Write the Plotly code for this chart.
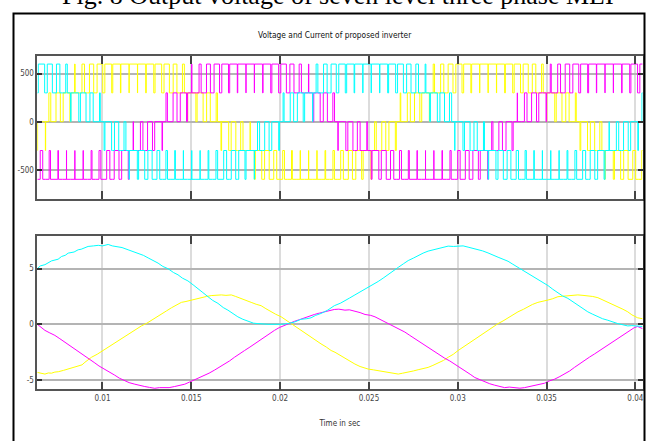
import math
import plotly.graph_objects as go

# ---------------- data (time in ms) ----------------
cyan_i_t = [6.33, 6.5, 6.76, 6.9, 7.13, 7.5, 7.70, 7.9, 8.07, 8.4, 8.63, 8.8, 9.19, 9.5, 9.76, 10.0, 10.32, 10.55,
            10.88, 11.1, 11.44, 11.7, 12.0, 12.3, 12.57, 12.9, 13.13, 13.4, 13.69, 14.0, 14.25, 14.5, 14.81, 15.1,
            15.37, 15.65, 15.94, 16.2, 16.5, 16.8, 17.06, 17.35, 17.62, 17.9, 18.18, 18.5, 18.75, 19.31, 20.06,
            20.43, 20.81, 21.18, 21.5, 21.74, 22.0, 22.3, 22.68, 23.05, 23.4, 23.65, 23.9, 24.21, 24.5, 24.96,
            25.3, 25.52, 25.8, 26.09, 26.4, 26.65, 26.95, 27.21, 27.5, 27.77, 28.05, 28.33, 28.6, 28.9, 29.2,
            29.46, 29.75, 30.02, 30.3, 30.58, 30.85, 31.14, 31.4, 31.7, 32.0, 32.27, 32.55, 32.83, 33.1, 33.39,
            33.7, 33.95, 34.2, 34.51, 34.8, 35.08, 35.35, 35.64, 35.9, 36.2, 36.5, 36.76, 37.05, 37.32, 37.6,
            37.89, 38.15, 38.45, 38.7, 39.01, 39.3, 39.57, 39.8, 40.13, 40.41]
cyan_i = [5.0, 5.25, 5.36, 5.5, 5.7, 5.85, 6.1, 6.2, 6.4, 6.5, 6.7, 6.75, 7.0, 7.05, 7.1, 7.05, 7.18, 7.05,
          7.0, 6.9, 6.7, 6.55, 6.4, 6.2, 5.97, 5.7, 5.5, 5.2, 5.0, 4.65, 4.45, 4.15, 3.9, 3.55,
          3.24, 2.85, 2.48, 2.15, 1.88, 1.5, 1.27, 0.95, 0.67, 0.45, 0.27, 0.1, 0.06, 0.0, 0.0,
          0.06, 0.2, 0.45, 0.5, 0.58, 0.8, 0.97, 1.27, 1.67, 1.9, 2.09, 2.35, 2.64, 2.9, 3.3,
          3.6, 3.85, 4.15, 4.5, 4.8, 5.12, 5.45, 5.73, 5.95, 6.2, 6.4, 6.58, 6.7, 6.82, 6.9,
          7.03, 7.0, 7.03, 7.05, 6.94, 6.85, 6.73, 6.6, 6.42, 6.25, 6.03, 5.85, 5.67, 5.4, 5.12,
          4.85, 4.6, 4.35, 4.09, 3.8, 3.48, 3.15, 2.79, 2.55, 2.33, 2.0, 1.73, 1.4, 1.12, 0.9,
          0.67, 0.5, 0.36, 0.2, 0.06, -0.05, -0.15, -0.12, -0.18, -0.2]

yellow_i_t = [6.33, 6.55, 6.76, 6.95, 7.13, 7.32, 7.51, 7.8, 8.07, 8.35, 8.63, 8.85, 9.01, 9.2, 9.38, 9.7, 9.94,
              10.2, 10.51, 10.8, 11.07, 11.35, 11.63, 11.9, 12.19, 12.5, 12.75, 13.0, 13.31, 13.6, 13.88, 14.15,
              14.44, 14.7, 15.0, 15.3, 15.56, 15.85, 16.12, 16.4, 16.69, 16.95, 17.25, 17.5, 17.81, 18.1, 18.37,
              18.65, 18.93, 19.2, 19.49, 19.75, 20.06, 20.35, 20.62, 20.9, 21.18, 21.45, 21.74, 22.0, 22.3, 22.6,
              22.87, 23.09, 23.38, 23.65, 23.9, 24.21, 24.5, 24.96, 25.25, 25.52, 25.8, 26.09, 26.4, 26.65, 26.9,
              27.21, 27.5, 27.77, 28.05, 28.33, 28.6, 28.9, 29.2, 29.46, 29.75, 30.02, 30.3, 30.58, 30.85, 31.14,
              31.4, 31.7, 31.95, 32.27, 32.55, 32.83, 33.1, 33.39, 33.7, 33.95, 34.2, 34.51, 34.8, 35.08, 35.35,
              35.64, 35.9, 36.2, 36.5, 36.76, 37.05, 37.32, 37.6, 37.89, 38.15, 38.45, 38.7, 39.01, 39.3, 39.57,
              39.8, 40.13, 40.41]
yellow_i = [-4.33, -4.4, -4.48, -4.38, -4.4, -4.3, -4.27, -4.15, -4.03, -3.9, -3.73, -3.65, -3.42, -3.2, -2.97, -2.7, -2.45,
            -2.2, -1.91, -1.6, -1.3, -1.0, -0.7, -0.4, -0.15, 0.1, 0.36, 0.62, 0.97, 1.2, 1.48, 1.75,
            1.97, 2.05, 2.18, 2.3, 2.39, 2.5, 2.58, 2.62, 2.64, 2.6, 2.64, 2.5, 2.33, 2.15, 1.97,
            1.8, 1.67, 1.4, 1.12, 0.9, 0.67, 0.35, 0.06, -0.25, -0.55, -0.85, -1.15, -1.45, -1.76, -2.05,
            -2.36, -2.52, -2.8, -3.06, -3.3, -3.58, -3.8, -4.03, -4.1, -4.18, -4.25, -4.33, -4.4, -4.48, -4.4,
            -4.33, -4.2, -4.09, -3.98, -3.88, -3.7, -3.48, -3.25, -2.97, -2.7, -2.36, -2.05, -1.76, -1.45, -1.15,
            -0.85, -0.55, -0.25, 0.06, 0.3, 0.58, 0.85, 1.12, 1.35, 1.58, 1.78, 1.97, 2.05, 2.18, 2.3,
            2.48, 2.52, 2.58, 2.62, 2.64, 2.6, 2.58, 2.5, 2.39, 2.2, 2.03, 1.8, 1.58, 1.35, 1.12,
            0.85, 0.58, 0.5]

magenta_i_t = [6.33, 6.55, 6.76, 7.0, 7.32, 7.6, 7.88, 8.15, 8.45, 8.7, 9.01, 9.3, 9.57, 9.8, 10.13, 10.4, 10.69,
               10.95, 11.25, 11.5, 11.82, 12.05, 12.38, 12.65, 12.94, 13.2, 13.5, 13.75, 14.06, 14.3, 14.63, 14.9,
               15.19, 15.45, 15.75, 16.0, 16.31, 16.6, 16.87, 17.15, 17.43, 17.7, 18.0, 18.3, 18.56, 18.85, 19.12,
               19.4, 19.68, 19.95, 20.24, 20.5, 20.81, 21.1, 21.37, 21.65, 21.93, 22.2, 22.49, 22.75, 23.05, 23.3,
               23.65, 23.9, 24.21, 24.5, 24.78, 25.1, 25.34, 25.6, 25.9, 26.2, 26.46, 26.75, 27.02, 27.3, 27.58,
               27.85, 28.15, 28.45, 28.71, 29.0, 29.27, 29.55, 29.83, 30.1, 30.39, 30.7, 30.96, 31.25, 31.52, 31.8,
               32.08, 32.35, 32.64, 32.9, 33.2, 33.5, 33.76, 34.05, 34.33, 34.6, 34.89, 35.15, 35.45, 35.75, 36.01,
               36.3, 36.57, 36.85, 37.14, 37.42, 37.7, 38.0, 38.26, 38.55, 38.82, 39.1, 39.38, 39.65, 39.94, 40.13,
               40.41]
magenta_i = [0.0, -0.3, -0.55, -0.75, -1.0, -1.3, -1.6, -1.9, -2.21, -2.5, -2.88, -3.2, -3.48, -3.75, -4.03, -4.3, -4.58,
             -4.85, -5.09, -5.25, -5.39, -5.5, -5.6, -5.68, -5.76, -5.7, -5.73, -5.7, -5.6, -5.5, -5.39, -5.2,
             -5.0, -4.85, -4.64, -4.4, -4.12, -3.85, -3.58, -3.3, -2.97, -2.65, -2.36, -2.05, -1.76, -1.45, -1.15,
             -0.85, -0.55, -0.3, -0.09, 0.1, 0.27, 0.42, 0.58, 0.72, 0.88, 1.0, 1.12, 1.22, 1.33, 1.36,
             1.27, 1.3, 1.18, 1.05, 0.88, 0.8, 0.67, 0.45, 0.21, 0.0, -0.24, -0.45, -0.7, -1.0, -1.3,
             -1.6, -1.91, -2.2, -2.52, -2.8, -3.06, -3.3, -3.58, -3.9, -4.18, -4.5, -4.79, -5.0, -5.18, -5.35,
             -5.48, -5.6, -5.7, -5.65, -5.7, -5.75, -5.7, -5.6, -5.54, -5.45, -5.3, -5.1, -4.94, -4.7, -4.48,
             -4.2, -3.88, -3.55, -3.27, -2.95, -2.67, -2.35, -2.06, -1.75, -1.45, -1.15, -0.85, -0.55, -0.3, -0.2,
             -0.4]

# Voltage: per PWM carrier period, the modulating level (in 300 V steps)
PWM_START_MS = 6.33
PWM_PERIOD_MS = 0.47
LEVEL_STEP_V = 300
yellow_v_ref = [-0.07, 0.23, 0.52, 0.80, 1.06, 1.30, 1.51, 1.68, 1.82, 1.92,
                1.98, 1.99, 1.97, 1.90, 1.79, 1.64, 1.45, 1.23, 0.99, 0.72,
                0.44, 0.15, -0.15, -0.44, -0.72, -0.99, -1.23, -1.45, -1.64, -1.79,
                -1.90, -1.97, -2.00, -1.98, -1.92, -1.82, -1.68, -1.51, -1.30, -1.06,
                -0.80, -0.52, -0.23, 0.07, 0.36, 0.64, 0.91, 1.16, 1.38, 1.58,
                1.74, 1.86, 1.95, 1.99, 1.99, 1.96, 1.88, 1.76, 1.61, 1.42,
                1.20, 0.96, 0.69, 0.40, 0.11, -0.19, -0.48, -0.75, -1.02, -1.26,
                -1.47, -1.65, -1.80]
magenta_v_ref = [-1.70, -1.84, -1.93, -1.99, -2.00, -1.97, -1.89, -1.78, -1.62, -1.43,
                 -1.21, -0.96, -0.70, -0.41, -0.12, 0.17, 0.47, 0.75, 1.01, 1.25,
                 1.47, 1.65, 1.80, 1.91, 1.98, 1.99, 1.98, 1.92, 1.81, 1.67,
                 1.49, 1.27, 1.04, 0.77, 0.49, 0.20, -0.09, -0.39, -0.67, -0.94,
                 -1.19, -1.41, -1.61, -1.76, -1.88, -1.96, -2.00, -1.99, -1.94, -1.85,
                 -1.71, -1.54, -1.34, -1.11, -0.85, -0.57, -0.28, 0.01, 0.31, 0.59,
                 0.87, 1.12, 1.34, 1.54, 1.71, 1.84, 1.93, 1.99, 1.99, 1.98,
                 1.91, 1.80, 1.66]
cyan_v_ref = [1.76, 1.61, 1.41, 1.19, 0.94, 0.67, 0.39, 0.09, -0.20, -0.49,
              -0.77, -1.04, -1.27, -1.49, -1.67, -1.81, -1.92, -1.98, -2.00, -1.98,
              -1.91, -1.80, -1.65, -1.47, -1.25, -1.01, -0.75, -0.47, -0.17, 0.12,
              0.41, 0.70, 0.96, 1.21, 1.43, 1.62, 1.78, 1.89, 1.97, 1.99,
              1.99, 1.93, 1.84, 1.70, 1.53, 1.32, 1.09, 0.83, 0.55, 0.26,
              -0.03, -0.33, -0.61, -0.88, -1.13, -1.36, -1.55, -1.72, -1.85, -1.94,
              -1.99, -2.00, -1.97, -1.90, -1.79, -1.64, -1.45, -1.23, -0.98, -0.72,
              -0.44, -0.14, 0.15]

x_tick_vals = [0.01, 0.015, 0.02, 0.025, 0.03, 0.035, 0.04]
x_tick_text = ["0.01", "0.015", "0.02", "0.025", "0.03", "0.035", "0.04"]
v_tick_vals = [-500, 0, 500]
i_tick_vals = [-5, 0, 5]

title_text = "Voltage and Current of proposed inverter"
x_title = "Time in sec"
caption_text = "Fig. 8 Output voltage of seven level three phase MLI"

# ---------------- build ----------------
W, H = 659, 441


def px(x):
    return x / W


def py(y):
    return 1 - y / H


YEL, MAG, CYN = "#ffff00", "#ff00ff", "#00ffff"


def pwm_xy(refs):
    xs, ys = [], []
    for k, r in enumerate(refs):
        n = math.floor(r)
        d = r - n
        lo, hi = n * LEVEL_STEP_V, (n + 1) * LEVEL_STEP_V
        ts = PWM_START_MS + k * PWM_PERIOD_MS
        half = (1 - d) * PWM_PERIOD_MS / 2
        xs += [ts, ts + half, ts + PWM_PERIOD_MS - half]
        ys += [lo, hi, lo]
    xs.append(PWM_START_MS + len(refs) * PWM_PERIOD_MS)
    ys.append(ys[-1])
    return [x / 1000 for x in xs], ys


fig = go.Figure()
for refs, col in [(yellow_v_ref, YEL), (magenta_v_ref, MAG), (cyan_v_ref, CYN)]:
    xs, ys = pwm_xy(refs)
    fig.add_trace(go.Scatter(x=xs, y=ys, mode="lines", line=dict(color=col, width=1, shape="hv"),
                             xaxis="x2", yaxis="y2", showlegend=False, hoverinfo="skip"))
for tt, vv, col in [(yellow_i_t, yellow_i, YEL), (magenta_i_t, magenta_i, MAG), (cyan_i_t, cyan_i, CYN)]:
    fig.add_trace(go.Scatter(x=[t / 1000 for t in tt], y=vv, mode="lines", line=dict(color=col, width=1),
                             xaxis="x", yaxis="y", showlegend=False, hoverinfo="skip"))

font_narrow = "DejaVu Sans Condensed, Liberation Sans Narrow, Arial Narrow, sans-serif"
tick_font = dict(family=font_narrow, size=8, color="#444")
common_x = dict(range=[0.00633, 0.0404], tickvals=x_tick_vals, ticks="inside", ticklen=8, tickwidth=1.5,
                tickcolor="#444", showline=True, linecolor="#555", linewidth=1.5, mirror="ticks",
                showgrid=True, gridcolor="#dcdcdc", gridwidth=2, zeroline=False, domain=[px(37.3), px(642.5)],
                automargin=False)
common_y = dict(ticks="inside", ticklen=5, tickwidth=1.5, tickcolor="#333", showline=True, linecolor="#555",
                linewidth=1.5, mirror="ticks", showgrid=True, gridcolor="#b4b4b4", gridwidth=1.5, zeroline=False,
                tickfont=tick_font, automargin=False)

fig.update_layout(
    width=W, height=H, margin=dict(l=0, r=0, t=0, b=0),
    paper_bgcolor="white", plot_bgcolor="white",
    xaxis=dict(**common_x, anchor="y", ticktext=x_tick_text, tickfont=tick_font,
               title=dict(text=x_title, font=dict(family=font_narrow, size=8, color="#333"), standoff=19)),
    yaxis=dict(**common_y, domain=[py(389.3), py(236)], range=[-5.85, 7.94], tickvals=i_tick_vals,
               ticktext=["-5", "0", "5"], anchor="x"),
    xaxis2=dict(**common_x, anchor="y2", showticklabels=False, matches="x"),
    yaxis2=dict(**common_y, domain=[py(199), py(56)], range=[-805, 684], tickvals=v_tick_vals,
                ticktext=["-500", "0", "500"], anchor="x2"),
    annotations=[
        dict(text=title_text, x=px(335), y=py(35), xref="paper", yref="paper", showarrow=False,
             xanchor="center", yanchor="middle",
             font=dict(family=font_narrow, size=8.3, color="#111")),
        dict(text=caption_text, x=px(338), y=py(12), xref="paper", yref="paper", showarrow=False,
             xanchor="center", yanchor="bottom",
             font=dict(family="Liberation Serif, Times New Roman, serif", size=26, color="#000")),
    ],
    shapes=[
        dict(type="rect", xref="paper", yref="paper", x0=px(13.5), x1=px(644.5), y0=-0.05, y1=py(13.5),
             line=dict(color="#000", width=2)),
    ],
)

fig.write_html("out.html", config={"displayModeBar": False},
               post_script="document.body.style.margin='0';")
